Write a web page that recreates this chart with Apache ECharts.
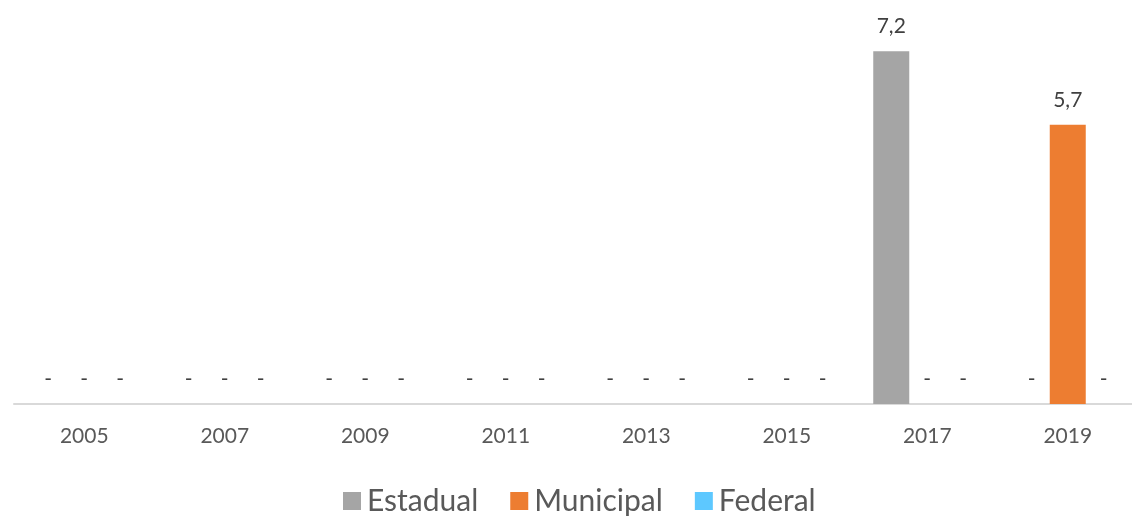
<!DOCTYPE html>
<html>
<head>
<meta charset="utf-8">
<script src="https://cdn.jsdelivr.net/npm/echarts@6/dist/echarts.min.js"></script>
<style>
  html, body { margin: 0; padding: 0; background: #ffffff; }
  #chart { width: 1132px; height: 516px; }
</style>
</head>
<body>
<div id="chart"></div>
<script>
// Years on the category axis
const years = ['2005', '2007', '2009', '2011', '2013', '2015', '2017', '2019'];
// Values per administrative level (0 is shown as a dash)
const estadual  = [0, 0, 0, 0, 0, 0, 7.2, 0];
const municipal = [0, 0, 0, 0, 0, 0, 0, 5.7];
const federal   = [0, 0, 0, 0, 0, 0, 0, 0];

const FONT = 'Lato, "Open Sans", "Liberation Sans", sans-serif';

function fmt(p) {
  return p.value === 0 ? '-' : p.value.toFixed(1).replace('.', ',');
}

function barSeries(name, data, color) {
  return {
    name: name,
    type: 'bar',
    data: data,
    barWidth: 36,
    barGap: '0%',
    itemStyle: { color: color },
    label: {
      show: true,
      position: 'top',
      distance: 14,
      formatter: fmt,
      color: '#404040',
      fontSize: 21,
      fontFamily: FONT
    }
  };
}

const chart = echarts.init(document.getElementById('chart'));
chart.setOption({
  animation: false,
  color: ['#A5A5A5', '#ED7D31', '#5DC8FF'],
  grid: { left: 14, width: 1124, top: 12, height: 392, outerBoundsMode: 'none', containLabel: false },
  xAxis: {
    type: 'category',
    data: years,
    axisLine: { lineStyle: { color: '#D9D9D9', width: 2 } },
    axisTick: { show: false },
    axisLabel: { color: '#595959', fontSize: 21, fontFamily: FONT, margin: 22 }
  },
  yAxis: {
    type: 'value',
    min: 0,
    max: 8,
    show: false,
    splitLine: { show: false }
  },
  legend: {
    top: 481,
    left: 338,
    itemWidth: 18,
    itemHeight: 18,
    itemGap: 32,
    icon: 'rect',
    textStyle: { color: '#595959', fontSize: 30, fontFamily: FONT, padding: [0, 0, 0, 1] },
    data: ['Estadual', 'Municipal', 'Federal']
  },
  series: [
    barSeries('Estadual', estadual, '#A5A5A5'),
    barSeries('Municipal', municipal, '#ED7D31'),
    barSeries('Federal', federal, '#5DC8FF')
  ]
});
</script>
</body>
</html>
